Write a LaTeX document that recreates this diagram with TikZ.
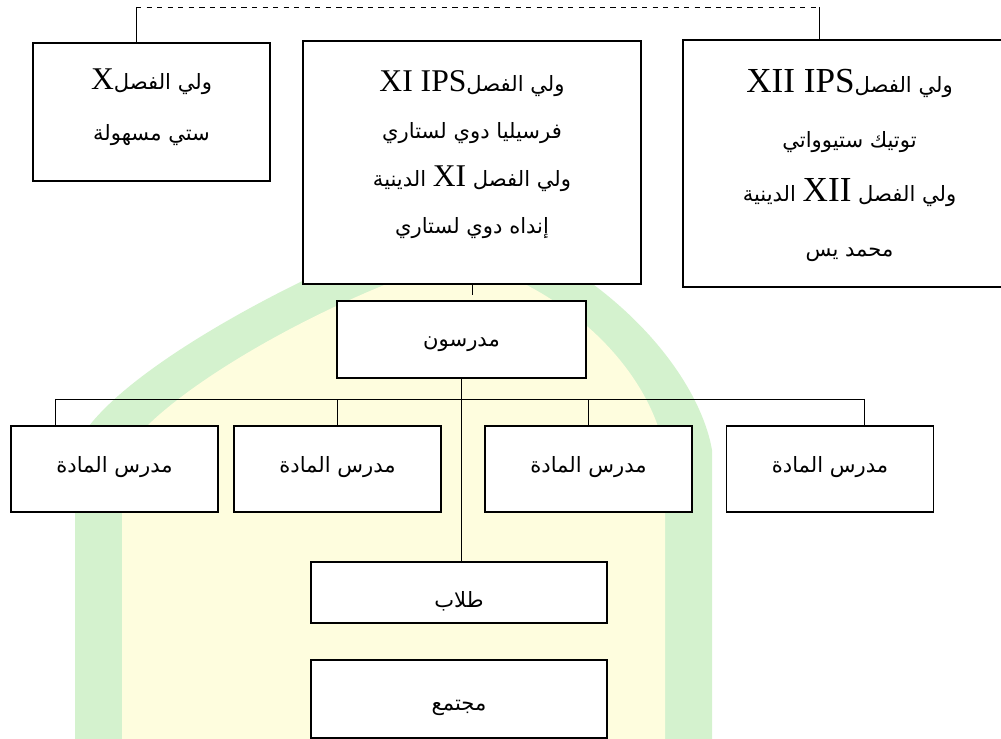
\documentclass[tikz,border=0pt]{standalone}
\usepackage{fontspec}
\setmainfont{Liberation Serif}
\newfontfamily\arabicfont[Script=Arabic]{DejaVu Sans}
\TeXXeTstate=1
\newcommand{\artxt}[1]{\beginR #1\endR}
\newcommand{\lattxt}[2][18]{\beginL{\rmfamily\fontsize{#1}{27}\selectfont #2}\endL{}}
\definecolor{wmgreen}{RGB}{212,242,206}
\definecolor{wmyellow}{RGB}{254,253,222}
\tikzset{
  blok/.style={draw, rectangle, line width=1pt, fill=white, align=center, inner sep=0pt,
    font=\arabicfont\fontsize{12}{27}\selectfont},
  odin/.style={blok, text height=#1, text depth=0pt},
  svyaz/.style={line width=0.5pt}
}

\begin{document}
\begin{tikzpicture}[x=0.02cm,y=-0.02cm]
\useasboundingbox (0,0) rectangle (1001,739);
\clip (0,0) rectangle (1001,739);
%Фон (водяной знак)
\fill[wmgreen] (75,739) -- (75,450) .. controls (100,380) and (300,270) .. (460,215)
  .. controls (620,270) and (700,380) .. (712,450) -- (712,739) -- cycle;
\fill[wmyellow] (122,739) -- (122,458) .. controls (150,400) and (320,300) .. (460,258)
  .. controls (600,300) and (660,400) .. (665,458) -- (665,739) -- cycle;
%Верхний ряд
\node[blok, minimum width=4.74cm, minimum height=2.76cm, text depth=0.3cm,
  font=\arabicfont\fontsize{12}{29}\selectfont] (bx) at (151.5,112)
  {\artxt{ولي الفصل\lattxt{X}}\\ \artxt{ستي مسهولة}};
\node[blok, minimum width=6.76cm, minimum height=4.86cm, text depth=0.41cm] (bxi) at (472,162.5)
  {\artxt{ولي الفصل\lattxt{XI IPS}}\\ \artxt{فرسيليا دوي لستاري}\\
   \artxt{ولي الفصل \lattxt{XI} الدينية}\\ \artxt{إنداه دوي لستاري}};
%правый край блока уходит за границу рисунка
\node[blok, align=none, minimum width=8.34cm, minimum height=4.94cm,
  font=\arabicfont\fontsize{12}{31}\selectfont] (bxii) at (891.5,163.5)
  {\begin{tabular}{@{}c@{}}
   \artxt{ولي الفصل\lattxt[20]{XII IPS}}\\ \artxt{توتيك ستيوواتي}\\
   \artxt{ولي الفصل \lattxt[20]{XII} الدينية}\\ \artxt{محمد يس}
   \end{tabular}\hspace*{1.68cm}};
%Учителя
\node[odin=0.3cm, minimum width=4.98cm, minimum height=1.54cm] (mdr) at (461.5,339.5) {\artxt{مدرسون}};
\node[odin=0.14cm, minimum width=4.14cm, minimum height=1.72cm] (t1) at (114.5,469) {\artxt{مدرس المادة}};
\node[odin=0.14cm, minimum width=4.14cm, minimum height=1.72cm] (t2) at (337.5,469) {\artxt{مدرس المادة}};
\node[odin=0.14cm, minimum width=4.14cm, minimum height=1.72cm] (t3) at (588.5,469) {\artxt{مدرس المادة}};
\node[odin=0.14cm, minimum width=4.14cm, minimum height=1.72cm] (t4) at (830,469) {\artxt{مدرس المادة}};
%Нижний ряд
\node[odin=0.6cm, minimum width=5.92cm, minimum height=1.22cm] (tlb) at (459,592.5) {\artxt{طلاب}};
\node[odin=0.45cm, minimum width=5.92cm, minimum height=1.56cm] (mjt) at (459,699) {\artxt{مجتمع}};
%Связи
\coordinate (tl) at (136,7);
\coordinate (tr) at (819,7);
\draw[svyaz] (tl |- bx.north) -- (tl);
\draw[svyaz, dashed] (tl) -- (tr);
\draw[svyaz] (tr) -- (tr |- bxii.north);
\draw[svyaz] (bxi.south) -- ++(0,10);
\draw[svyaz] (mdr.south) -- (mdr.south |- tlb.north);
\coordinate (barl) at (55,399);
\coordinate (barr) at (864,399);
\draw[svyaz] (barl) -- (barr);
\draw[svyaz] (barl) -- (barl |- t1.north);
\draw[svyaz] (t2.north) -- (t2.north |- barl);
\draw[svyaz] (t3.north) -- (t3.north |- barl);
\draw[svyaz] (barr) -- (barr |- t4.north);
\end{tikzpicture}
\end{document}
